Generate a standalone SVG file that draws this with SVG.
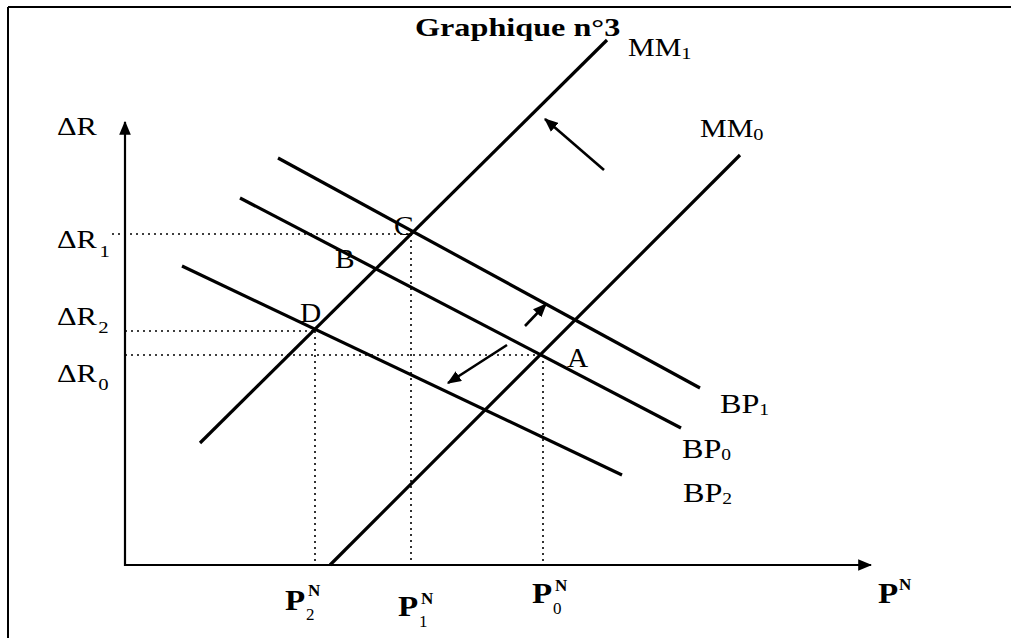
<svg xmlns="http://www.w3.org/2000/svg" width="1011" height="638" viewBox="0 0 1011 638">
<style>
.frame{stroke:#000;stroke-width:2;fill:none}
.ax{stroke:#000;stroke-width:2.2;fill:none}
.curve{stroke:#000;stroke-width:3.2;fill:none;stroke-linecap:butt}
.dot{stroke:#000;stroke-width:1.6;stroke-dasharray:2 4;fill:none}
.arr{stroke:#000;stroke-width:2.6;fill:none}
text{font-family:"Liberation Serif","Times New Roman",serif;fill:#000}
.lbl{font-size:25px}
.big{font-size:28px}
.sub{font-size:17px}
.pb{font-size:30px;font-weight:bold}
.sup{font-size:17px;font-weight:bold}
.title{font-size:26px;font-weight:bold}
</style>
<defs>
<marker id="ah" viewBox="0 0 12 10" refX="11" refY="5" markerWidth="14" markerHeight="12" markerUnits="userSpaceOnUse" orient="auto">
<path d="M0,0 L12,5 L0,10 z" fill="#000"/>
</marker>
</defs>
<rect width="1011" height="638" fill="#fff"/>
<g id="frame">
<line class="frame" x1="8" y1="7" x2="1011" y2="7"/>
<line class="frame" x1="8" y1="7" x2="8" y2="638"/>
</g>
<g id="title"><text class="title" transform="translate(415,36) scale(1.24,1)">Graphique n°3</text></g>
<g id="axes">
<line class="ax" x1="125" y1="566" x2="125" y2="122" marker-end="url(#ah)"/>
<line class="ax" x1="124" y1="565" x2="871" y2="565" marker-end="url(#ah)"/>
</g>
<g id="connectors">
<line class="dot" x1="112" y1="234" x2="411" y2="234"/>
<line class="dot" x1="125" y1="331" x2="315" y2="331"/>
<line class="dot" x1="125" y1="355" x2="543" y2="355"/>
<line class="dot" x1="315" y1="331" x2="315" y2="565"/>
<line class="dot" x1="411" y1="234" x2="411" y2="565"/>
<line class="dot" x1="543" y1="355" x2="543" y2="565"/>
<line class="arr" x1="604" y1="170" x2="545" y2="119" marker-end="url(#ah)"/>
<line class="arr" x1="525" y1="326" x2="546" y2="304" marker-end="url(#ah)"/>
<line class="arr" x1="507" y1="345" x2="448" y2="383" marker-end="url(#ah)"/>
</g>
<g id="MM1"><line class="curve" x1="200" y1="443" x2="607" y2="40"/>
<text class="lbl" transform="translate(628,56) scale(1.2,1)">MM<tspan class="sub" dy="3">1</tspan></text></g>
<g id="MM0"><line class="curve" x1="330" y1="565" x2="740" y2="155"/>
<text class="lbl" transform="translate(700,137) scale(1.2,1)">MM<tspan class="sub" dy="3">0</tspan></text></g>
<g id="BP1"><line class="curve" x1="278" y1="158" x2="700" y2="388"/>
<text class="big" transform="translate(720,413) scale(1.15,1)">BP<tspan class="sub" dy="2">1</tspan></text></g>
<g id="BP0"><line class="curve" x1="240" y1="198" x2="681" y2="428"/>
<text class="big" transform="translate(682,458) scale(1.15,1)">BP<tspan class="sub" dy="2">0</tspan></text></g>
<g id="BP2"><line class="curve" x1="182" y1="266" x2="622" y2="475"/>
<text class="big" transform="translate(683,502) scale(1.15,1)">BP<tspan class="sub" dy="2">2</tspan></text></g>
<g id="A"><text class="big" transform="translate(567,367) scale(1.05,1)">A</text></g>
<g id="B"><text class="big" transform="translate(335,268) scale(1.05,1)">B</text></g>
<g id="C"><text class="big" transform="translate(394,235) scale(1.05,1)">C</text></g>
<g id="D"><text class="big" transform="translate(300,322) scale(1.05,1)">D</text></g>
<g id="yLabels">
<text class="lbl" transform="translate(57,135) scale(1.22,1)">ΔR</text>
<text class="lbl" transform="translate(57,248) scale(1.22,1)">ΔR<tspan class="sub" dx="2" dy="9">1</tspan></text>
<text class="lbl" transform="translate(57,325) scale(1.22,1)">ΔR<tspan class="sub" dx="1" dy="8">2</tspan></text>
<text class="lbl" transform="translate(57,382) scale(1.22,1)">ΔR<tspan class="sub" dx="1" dy="8">0</tspan></text>
</g>
<g id="xLabels">
<text class="pb" transform="translate(285,610) scale(1.1,1)">P</text>
<text class="sub" x="306" y="620">2</text>
<text class="sup" x="308" y="596">N</text>
<text class="pb" transform="translate(398,616) scale(1.1,1)">P</text>
<text class="sub" x="419" y="627">1</text>
<text class="sup" x="421" y="604">N</text>
<text class="pb" transform="translate(532,603) scale(1.1,1)">P</text>
<text class="sub" x="553" y="614">0</text>
<text class="sup" x="555" y="591">N</text>
<text class="pb" transform="translate(878,603) scale(1.1,1)">P</text>
<text class="sup" x="899" y="590">N</text>
</g>
</svg>
